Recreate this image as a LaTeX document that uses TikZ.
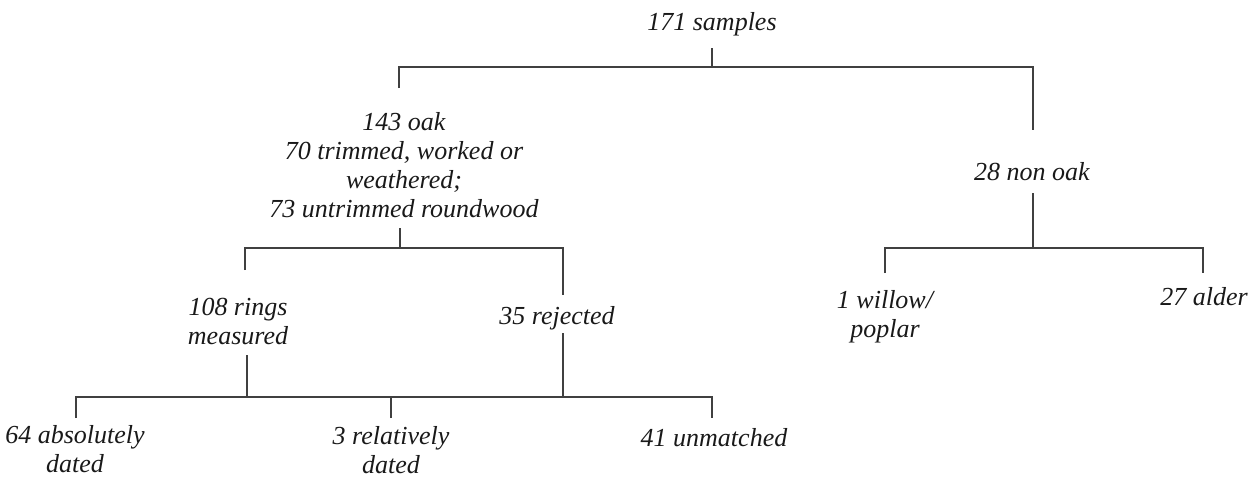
\documentclass[tikz,border=0pt]{standalone}
\usepackage{fontspec}
\setmainfont{Liberation Serif}
\usepackage{tikz}
\usetikzlibrary{positioning}

\tikzset{
  lbl/.style={inner sep=0pt, align=center, text=black!90,
    font=\fontsize{26}{29}\selectfont\itshape},
  link/.style={draw=black!75, line width=1.2pt}
}

\begin{document}
\begin{tikzpicture}[x=1pt, y=-1pt]
                \useasboundingbox (0,0) rectangle (1259,479);
                % labels
                \node[lbl] (samples) at (712,24) {171 samples};
                \node[lbl] (oak) at (404,165) {143 oak\\70 trimmed, worked or\\weathered;\\73 untrimmed roundwood};
                \node[lbl] (nonoak) at (1032,172) {28 non oak};
                \node[lbl] (rings) at (238,322) {108 rings\\measured};
                \node[lbl] (rejected) at (557,318) {35 rejected};
                \node[lbl] (willow) at (885,317) {1 willow/\\poplar};
                \node[lbl] (alder) at (1204,297) {27 alder};
                \node[lbl] (absdated) at (75,449) {64 absolutely\\dated};
                \node[lbl] (reldated) at (391,450) {3 relatively\\dated};
                \node[lbl] (unmatched) at (714,438) {41 unmatched};
                % line ends
                \coordinate (samplesBot) at (712,48);
                \coordinate (forkA) at (712,67);
                \coordinate (oakTop) at (399,88);
                \coordinate (nonoakTop) at (1033,130);
                \coordinate (oakBot) at (400,228);
                \coordinate (forkB) at (400,248);
                \coordinate (ringsTop) at (245,270);
                \coordinate (rejectedTop) at (563,295);
                \coordinate (nonoakBot) at (1033,193);
                \coordinate (forkC) at (1033,248);
                \coordinate (willowTop) at (885,273);
                \coordinate (alderTop) at (1203,273);
                \coordinate (ringsBot) at (247,355);
                \coordinate (rejectedBot) at (563,333);
                \coordinate (forkD) at (247,397);
                \coordinate (absTop) at (76,418);
                \coordinate (relTop) at (391,418);
                \coordinate (unmTop) at (712,418);
                % connectors
                \draw[link] (samplesBot) -- (forkA);
                \draw[link] (oakTop) |- (forkA) -| (nonoakTop);
                \draw[link] (oakBot) -- (forkB);
                \draw[link] (ringsTop) |- (forkB) -| (rejectedTop);
                \draw[link] (nonoakBot) -- (forkC);
                \draw[link] (willowTop) |- (forkC) -| (alderTop);
                \draw[link] (ringsBot) -- (forkD);
                \draw[link] (rejectedBot) -- (rejectedBot |- forkD);
                \draw[link] (absTop) |- (forkD) -| (unmTop);
                \draw[link] (relTop) -- (relTop |- forkD);
            \end{tikzpicture}
\end{document}
